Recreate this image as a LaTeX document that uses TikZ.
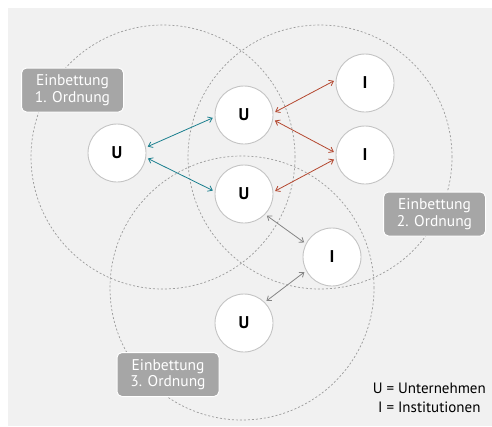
\documentclass[tikz,border=0pt]{standalone}
\usepackage{fontspec}
\setmainfont{PT Sans}
\usetikzlibrary{arrows.meta}
\definecolor{bggray}{HTML}{F1F1F1}
\definecolor{boxgray}{HTML}{A6A6A6}
\definecolor{ringgray}{HTML}{9A9A9A}
\definecolor{nodeborder}{HTML}{C4C4C4}
\definecolor{teal}{HTML}{1A7F8E}
\definecolor{rust}{HTML}{B4472F}
\definecolor{arrgray}{HTML}{858585}
\tikzset{
  actor/.style={circle, draw=nodeborder, line width=0.9pt, fill=white, minimum size=58pt, inner sep=0pt, font=\fontsize{17}{17}\selectfont\bfseries},
  ring/.style={draw=ringgray, line width=0.7pt, dash pattern=on 2pt off 2pt},
  embed/.style={rounded corners=5pt, fill=boxgray, draw=white, line width=1pt, text=white, align=center, minimum width=102pt, minimum height=44pt, inner sep=2pt, font=\fontsize{15.5}{16.7}\selectfont},
  link/.style={{Straight Barb[length=4pt,width=6pt]}-{Straight Barb[length=4pt,width=6pt]}, line width=0.8pt, shorten <=2pt, shorten >=2pt}
}
\begin{document}
\begin{tikzpicture}[x=1pt,y=-1pt]
\useasboundingbox (0,0) rectangle (492,426);
\fill[bggray] (8,8) rectangle (492,426);
% rings
\draw[ring] (163,157) circle[radius=132pt];
\draw[ring] (320,157) circle[radius=132pt];
\draw[ring] (242,288) circle[radius=132pt];
% actors
\node[actor] (uL) at (117,153) {U};
\node[actor] (uT) at (244,115) {U};
\node[actor] (uM) at (244,194) {U};
\node[actor] (uB) at (244,323) {U};
\node[actor] (iT) at (365,83) {I};
\node[actor] (iM) at (365,155) {I};
\node[actor] (iL) at (332,257) {I};
% labels
\node[embed] (e1) at (72.5,90) {Einbettung\\1. Ordnung};
\node[embed] (e2) at (434.5,214) {Einbettung\\2. Ordnung};
\node[embed] (e3) at (168,374.5) {Einbettung\\3. Ordnung};
% legend
\node[anchor=south east, inner sep=0pt, font=\fontsize{15}{19}\selectfont] (leg) at (486,418)
  {\begin{tabular}{@{}r@{ = }l@{}}U & Unternehmen\\ I & Institutionen\end{tabular}};
% connectors
\draw[link, teal] (uL.11) -- (uT.184);
\draw[link, teal] (uL.-9) -- (uM.175);
\draw[link, rust] (uT.4) -- (iT.174);
\draw[link, rust] (uT.-9) -- (iM.176);
\draw[link, rust] (uM.4) -- (iM.187);
\draw[link, arrgray] (uM.-44) -- (iL.153);
\draw[link, arrgray] (iL.208) -- (uB.45);
\end{tikzpicture}
\end{document}
